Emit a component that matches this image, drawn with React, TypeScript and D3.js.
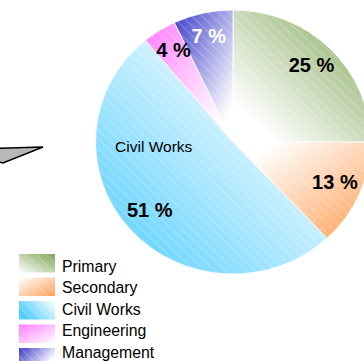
import React from "react";
import * as d3 from "d3";

const categories = ["Primary", "Secondary", "Civil Works", "Engineering", "Management"];
const values = [25, 13, 51, 4, 7];
const valueLabels = ["25 %", "13 %", "51 %", "4 %", "7 %"];
const colors = ["#7fa455", "#ff9f55", "#4fcdff", "#ff7aff", "#3a3ac8"];
// gradient direction for each slice: [x1,y1,x2,y2], from white to colour
const sliceDirs = [
  [0, 1, 1, 0],
  [0, 0, 1, 1],
  [1, 0, 0, 1],
  [1, 1, 0, 0],
  [1, 1, 0, 0],
];
const legendDirs = [
  [0, 1, 1, 0],
  [0, 0, 1, 1],
  [1, 0, 0, 0.5],
  [1, 1, 0, 0],
  [1, 0.5, 0, 0],
];
const labelColors = ["#000", "#000", "#000", "#000", "#fff"];

const W = 364;
const H = 361;

export default function App() {
  const cx = 233;
  const cy = 142;
  const R = 135;
  const sx = 137.5 / R;
  const sy = 132 / R;

  const pie = d3.pie<number>().sort(null).value((d) => d)(values);
  const arc = d3.arc<d3.PieArcDatum<number>>().innerRadius(0).outerRadius(R);
  const labelArc = d3.arc<d3.PieArcDatum<number>>().innerRadius(109).outerRadius(109);

  const legendX = 19;
  const legendY = 254;
  const step = 23.5;
  const textY0 = 271.7;
  const textStep = 21.5;

  return (
    <div style={{ position: "absolute", left: 0, top: 0 }}>
      <svg width={W} height={H} style={{ display: "block", fontFamily: "'Liberation Sans', Arial, sans-serif" }}>
        <defs>
          {colors.map((c, i) => (
            <linearGradient key={"g" + i} id={"g" + i} x1={sliceDirs[i][0]} y1={sliceDirs[i][1]} x2={sliceDirs[i][2]} y2={sliceDirs[i][3]}>
              <stop offset="0" stopColor="#ffffff" />
              <stop offset="0.15" stopColor="#ffffff" stopOpacity={1} />
              <stop offset="1" stopColor={c} />
            </linearGradient>
          ))}
          {colors.map((c, i) => (
            <linearGradient key={"l" + i} id={"l" + i} x1={legendDirs[i][0]} y1={legendDirs[i][1]} x2={legendDirs[i][2]} y2={legendDirs[i][3]}>
              <stop offset="0" stopColor="#ffffff" />
              <stop offset="1" stopColor={c} />
            </linearGradient>
          ))}
          <pattern id="hatch" width="7" height="7" patternUnits="userSpaceOnUse" patternTransform="rotate(45)">
            <rect width="7" height="1" fill="#ffffff" opacity="0.22" />
          </pattern>
        </defs>

        <polygon points="-6,148.5 43,147 3,163 -6,161" fill="#b8b8b8" stroke="#000" strokeWidth={1.5} />

        <g transform={`translate(${cx},${cy}) scale(${sx},${sy})`}>
          {pie.map((p, i) => (
            <g key={i}>
              <path d={arc(p) || ""} fill={`url(#g${i})`} stroke="#fff" strokeWidth={0.8} />
              <path d={arc(p) || ""} fill="url(#hatch)" />
            </g>
          ))}
        </g>

        {pie.map((p, i) => {
          const [lx, ly] = labelArc.centroid(p);
          return (
            <text
              key={"t" + i}
              x={cx + lx * sx}
              y={cy + ly * sy - 2}
              textAnchor="middle"
              dominantBaseline="central"
              fontWeight="bold"
              fontSize={20}
              fill={labelColors[i]}
            >
              {valueLabels[i]}
            </text>
          );
        })}
        {(() => {
          const [lx, ly] = labelArc.centroid(pie[2]);
          return (
            <text x={cx + lx * sx + 4} y={cy + ly * sy - 66} textAnchor="middle" dominantBaseline="central" fontSize={15.5} fill="#000">
              {categories[2]}
            </text>
          );
        })()}

        {categories.map((c, i) => (
          <g key={"lg" + i}>
            <rect x={legendX} y={legendY + i * step} width={36} height={18.5} fill={`url(#l${i})`} />
            <rect x={legendX} y={legendY + i * step} width={36} height={18.5} fill="url(#hatch)" />
            <text x={legendX + 43} y={textY0 + i * textStep} fontSize={15.8} fill="#000">
              {c}
            </text>
          </g>
        ))}
      </svg>
    </div>
  );
}
